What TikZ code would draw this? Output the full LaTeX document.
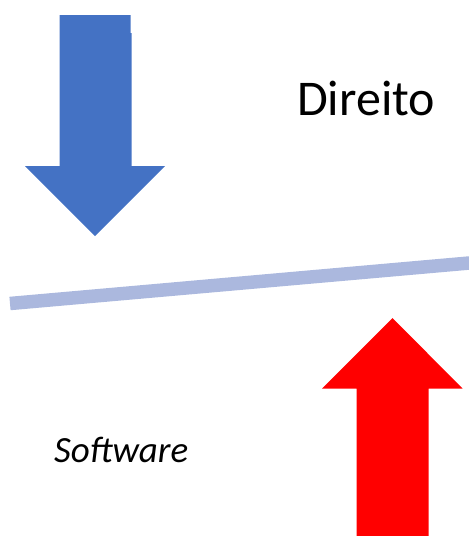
\documentclass[tikz,border=0pt]{standalone}
\usepackage{fontspec}
\setmainfont{Carlito}
\definecolor{arrowblue}{HTML}{4472C4}
\definecolor{arrowred}{HTML}{FF0000}
\definecolor{beam}{HTML}{ABB8DE}
\begin{document}
\begin{tikzpicture}[x=1pt,y=-1pt,
  lbl/.style={inner sep=0pt,anchor=base west,text=black}]
\useasboundingbox (0,0) rectangle (469,536);
% blue down arrow
\fill[arrowblue] (59.5,15) -- (130.5,15) -- (130.5,33) -- (131.5,33) -- (131.5,166) -- (165,166)
  -- (95,236) -- (25,166) -- (59.5,166) -- cycle;
% beam
\draw[beam,line width=13.5pt] (10,303.5) -- (475,262.5);
% red up arrow
\fill[arrowred] (392.5,318) -- (462.5,388.5) -- (428.5,388.5) -- (428.5,536) -- (356.5,536)
  -- (356.5,388.5) -- (322,388.5) -- cycle;
% labels
\node[lbl,font=\fontsize{50}{60}\selectfont] (direito) at (297,115.5) {Direito};
\node[lbl,font=\fontsize{37}{44}\selectfont\itshape] (software) at (54,462) {Software};
\end{tikzpicture}
\end{document}
